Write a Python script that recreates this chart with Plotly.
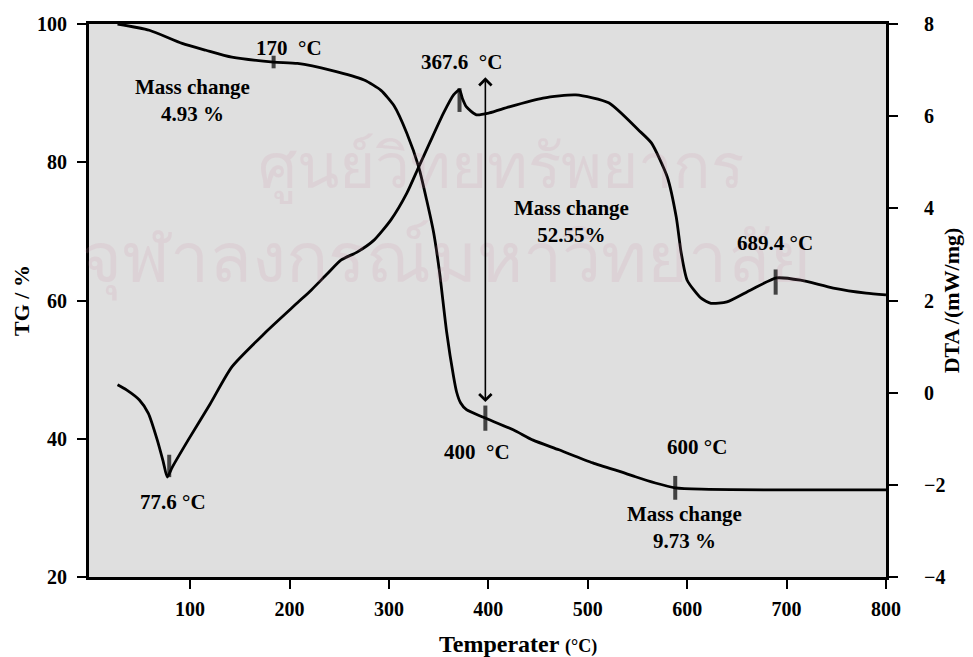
import numpy as np
import plotly.graph_objects as go

# ---- data ----
tg_temp = [27, 59, 92, 116, 142, 184, 208, 242, 275, 292, 305, 318, 330, 338, 345, 351,
           358, 365, 368, 372, 378, 395, 425, 445, 471, 505, 538, 548, 568, 588, 614, 700, 800]
tg_mass = [100, 99.1, 97.2, 96.2, 95.2, 94.5, 94.3, 93.3, 91.9, 90.4, 88.2, 84.2, 79.3, 74.5, 69.8, 64.0,
           55.5, 49.0, 46.8, 45.2, 44.2, 43.1, 41.3, 39.8, 38.4, 36.5, 35.0, 34.5, 33.6, 32.9, 32.7, 32.6, 32.6]

dta_temp = [27, 36, 49, 58, 67, 73, 77, 82, 98, 120, 142, 175, 208, 222, 238, 252, 268, 285, 302, 318,
            330, 341, 355, 365, 371, 374, 378, 388, 401, 421, 455, 488, 521, 551, 564, 580, 589, 594,
            600, 614, 624, 640, 664, 690, 714, 747, 780, 800]
dta_val = [0.17, 0.06, -0.16, -0.45, -1.03, -1.5, -1.83, -1.62, -1.03, -0.25, 0.56, 1.29, 1.95, 2.23, 2.58,
           2.88, 3.05, 3.31, 3.75, 4.33, 4.90, 5.42, 6.07, 6.46, 6.57, 6.38, 6.2, 6.03, 6.07, 6.2, 6.39,
           6.46, 6.29, 5.70, 5.42, 4.68, 3.81, 3.03, 2.44, 2.05, 1.94, 1.97, 2.23, 2.49, 2.44, 2.27, 2.16, 2.12]

# event marks (short vertical ticks)
tg_mark_x = [184, 397, 588]
tg_mark_len = [9, 18, 17]
dta_mark_x = [79, 371, 689]
dta_mark_y = [-1.59, 6.35, 2.40]
dta_mark_len = [16, 17, 18]

# labels: (text, x in degC, y in TG %)
labels = [
    ("170 \u00a0°C", 199, 96.5),
    ("Mass change<br>4.93 %", 102, 88.9),
    ("367.6 \u00a0°C", 373, 94.5),
    ("Mass change<br>52.55%", 484, 71.4),
    ("689.4 °C", 688, 68.3),
    ("400 \u00a0°C", 389, 38.1),
    ("600 °C", 610, 38.8),
    ("Mass change<br>9.73 %", 597.5, 27.2),
    ("77.6 °C", 83, 30.8),
]
arrow_x = 397
arrow_top = 92.5
arrow_bottom = 45.3

x_ticks = [100, 200, 300, 400, 500, 600, 700, 800]
tg_ticks = [20, 40, 60, 80, 100]
dta_ticks = [-4, -2, 0, 2, 4, 6, 8]

SERIF = "Liberation Serif, Times New Roman, serif"

fig = go.Figure()
fig.add_trace(go.Scatter(x=tg_temp, y=tg_mass, mode="lines", line=dict(color="black", width=2.8,
                         shape="spline", smoothing=0.6), name="TG", yaxis="y"))
fig.add_trace(go.Scatter(x=dta_temp, y=dta_val, mode="lines", line=dict(color="black", width=2.8,
                         shape="spline", smoothing=0.6), name="DTA", yaxis="y2"))

tg_mark_y = list(np.interp(tg_mark_x, tg_temp, tg_mass))
fig.add_trace(go.Scatter(x=tg_mark_x, y=tg_mark_y, mode="markers", yaxis="y",
                         marker=dict(symbol="line-ns", size=tg_mark_len, line=dict(color="black", width=4))))
fig.add_trace(go.Scatter(x=dta_mark_x, y=dta_mark_y, mode="markers", yaxis="y2",
                         marker=dict(symbol="line-ns", size=dta_mark_len, line=dict(color="black", width=4))))

annotations = []
# faint watermark (drawn first, underneath)
annotations.append(dict(x=0.517, y=0.826, xref="paper", yref="paper", showarrow=False,
                        text="ศูนย์วิทยทรัพยากร",
                        font=dict(family="Noto Sans, DejaVu Sans, sans-serif", size=62,
                                  color="rgba(205,140,170,0.15)")))
annotations.append(dict(x=-0.012, y=0.582, xref="paper", yref="paper", showarrow=False,
                        xanchor="left",
                        text="จุฬาลงกรณ์มหาวิทยาลัย",
                        font=dict(family="Noto Sans, DejaVu Sans, sans-serif", size=70,
                                  color="rgba(205,140,170,0.15)")))
for txt, lx, ly in labels:
    annotations.append(dict(x=lx, y=ly, xref="x", yref="y", text=txt, showarrow=False,
                            font=dict(family=SERIF, size=21, color="black", weight="bold"),
                            xanchor="center", yanchor="middle"))
annotations.append(dict(x=arrow_x, y=arrow_bottom, ax=arrow_x, ay=arrow_top, xref="x", yref="y",
                        axref="x", ayref="y", text="", showarrow=True, arrowside="end+start",
                        arrowhead=4, startarrowhead=4, arrowsize=1.5, startarrowsize=1.5,
                        arrowwidth=1.6, arrowcolor="black"))
# x axis title
annotations.append(dict(x=0.538, y=-0.121, xref="paper", yref="paper", xanchor="center", yanchor="middle",
                        text="Temperater <span style='font-size:18px'>(°C)</span>", showarrow=False,
                        font=dict(family=SERIF, size=24, color="black", weight="bold")))

tickfont = dict(family=SERIF, size=20, color="black", weight="bold")
fig.update_layout(
    width=973, height=657,
    margin=dict(l=89, r=80, t=24, b=80),
    paper_bgcolor="white", plot_bgcolor="#dfdfdf",
    showlegend=False,
    annotations=annotations,
    xaxis=dict(range=[-1.7, 800], tickvals=x_ticks, ticks="outside", ticklen=9, tickwidth=2,
               tickcolor="black", showline=True, linecolor="black", linewidth=3, mirror=True,
               showgrid=False, zeroline=False, tickfont=tickfont, ticklabelstandoff=3),
    yaxis=dict(range=[20, 100], tickvals=tg_ticks, ticks="outside", ticklen=9, tickwidth=2,
               tickcolor="black", showline=True, linecolor="black", linewidth=3,
               showgrid=False, zeroline=False, tickfont=tickfont, ticklabelstandoff=6,
               title=dict(text="TG / %", font=dict(family=SERIF, size=22, color="black", weight="bold"),
                          standoff=2)),
    yaxis2=dict(range=[-4, 8], tickvals=dta_ticks, ticks="outside", ticklen=9, tickwidth=2,
                tickcolor="black", showline=True, linecolor="black", linewidth=3,
                overlaying="y", side="right", showgrid=False, zeroline=False,
                tickfont=tickfont, ticklabelstandoff=22,
                title=dict(text="DTA /(mW/mg)", font=dict(family=SERIF, size=22, color="black",
                                                          weight="bold"), standoff=0)),
)

fig.write_html("out.html")
